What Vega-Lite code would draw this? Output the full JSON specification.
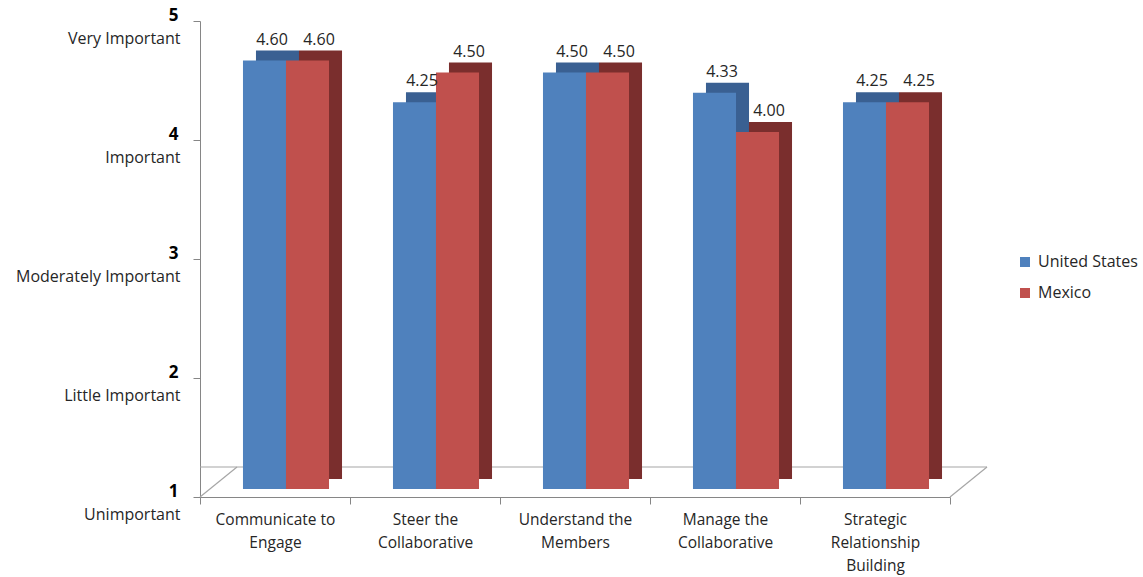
{
  "$schema": "https://vega.github.io/schema/vega-lite/v6.json",
  "width": 750,
  "height": 476,
  "autosize": {"type": "none"},
  "padding": {"left": 200, "top": 21, "right": 193, "bottom": 80},
  "config": {"font": "Open Sans", "view": {"stroke": null}},
  "data": {
    "values": [
      {"category": "Communicate to Engage", "country": "United States", "score": 4.60},
      {"category": "Communicate to Engage", "country": "Mexico", "score": 4.60},
      {"category": "Steer the Collaborative", "country": "United States", "score": 4.25},
      {"category": "Steer the Collaborative", "country": "Mexico", "score": 4.50},
      {"category": "Understand the Members", "country": "United States", "score": 4.50},
      {"category": "Understand the Members", "country": "Mexico", "score": 4.50},
      {"category": "Manage the Collaborative", "country": "United States", "score": 4.33},
      {"category": "Manage the Collaborative", "country": "Mexico", "score": 4.00},
      {"category": "Strategic Relationship Building", "country": "United States", "score": 4.25},
      {"category": "Strategic Relationship Building", "country": "Mexico", "score": 4.25}
    ]
  },
  "resolve": {"axis": {"y": "independent"}},
  "layer": [
    {
      "data": {"values": [{}]},
      "mark": {"type": "rule", "color": "#A6A6A6", "strokeWidth": 1.2, "xOffset": 37, "yOffset": -30},
      "encoding": {
        "y": {"datum": 1, "type": "quantitative", "scale": {"domain": [1, 5], "nice": false, "zero": false}, "axis": null}
      }
    },
    {
      "data": {"values": [{"category": "Communicate to Engage", "pos": 1}]},
      "mark": {"type": "rule", "color": "#A6A6A6", "strokeWidth": 1.2, "x2Offset": 37, "y2Offset": -30},
      "encoding": {
        "x": {"field": "category", "type": "nominal", "sort": null, "bandPosition": 0},
        "x2": {"field": "category", "bandPosition": 0},
        "y": {"field": "pos", "type": "quantitative", "scale": {"domain": [1, 5], "nice": false, "zero": false}, "axis": null},
        "y2": {"field": "pos"}
      }
    },
    {
      "data": {"values": [{"category": "Strategic Relationship Building", "pos": 1}]},
      "mark": {"type": "rule", "color": "#A6A6A6", "strokeWidth": 1.2, "x2Offset": 37, "y2Offset": -30},
      "encoding": {
        "x": {"field": "category", "type": "nominal", "sort": null, "bandPosition": 1},
        "x2": {"field": "category", "bandPosition": 1},
        "y": {"field": "pos", "type": "quantitative", "scale": {"domain": [1, 5], "nice": false, "zero": false}, "axis": null},
        "y2": {"field": "pos"}
      }
    },
    {
      "transform": [{"filter": "datum.country === 'United States'"}],
      "mark": {"type": "bar", "width": {"band": 0.287}, "xOffset": 2.5, "yOffset": -18, "y2Offset": -18, "color": "#3A6092"},
      "encoding": {
        "x": {"field": "category", "type": "nominal", "sort": null},
        "y": {"field": "score", "type": "quantitative", "scale": {"domain": [1, 5], "nice": false, "zero": false}, "axis": null},
        "y2": {"datum": 1}
      }
    },
    {
      "transform": [{"filter": "datum.country === 'Mexico'"}],
      "mark": {"type": "bar", "width": {"band": 0.287}, "xOffset": 45.5, "yOffset": -18, "y2Offset": -18, "color": "#7A2E2D"},
      "encoding": {
        "x": {"field": "category", "type": "nominal", "sort": null},
        "y": {"field": "score", "type": "quantitative", "scale": {"domain": [1, 5], "nice": false, "zero": false}, "axis": null},
        "y2": {"datum": 1}
      }
    },
    {
      "transform": [{"filter": "datum.country === 'United States'"}],
      "mark": {"type": "bar", "width": {"band": 0.287}, "xOffset": -10.5, "yOffset": -8, "y2Offset": -8},
      "encoding": {
        "x": {
          "field": "category", "type": "nominal", "sort": null, "title": null,
          "scale": {
            "domain": ["Communicate to Engage", "Steer the Collaborative", "Understand the Members", "Manage the Collaborative", "Strategic Relationship Building"],
            "paddingInner": 0, "paddingOuter": 0
          },
          "axis": {
            "labelAngle": 0, "labelAlign": "center", "tickBand": "extent", "tickSize": 7, "tickColor": "#868686",
            "domainColor": "#868686", "labelPadding": 8, "labelFontSize": 15.5, "labelColor": "#262626",
            "labelLineHeight": 23, "labelBaseline": "top", "labelLimit": 200,
            "labelExpr": "datum.value == 'Communicate to Engage' ? ['Communicate to', 'Engage'] : datum.value == 'Steer the Collaborative' ? ['Steer the', 'Collaborative'] : datum.value == 'Understand the Members' ? ['Understand the', 'Members'] : datum.value == 'Manage the Collaborative' ? ['Manage the', 'Collaborative'] : datum.value == 'Strategic Relationship Building' ? ['Strategic', 'Relationship', 'Building'] : ''"
          }
        },
        "y": {
          "field": "score", "type": "quantitative", "title": null,
          "scale": {"domain": [1, 5], "nice": false, "zero": false},
          "axis": {
            "orient": "left", "values": [1, 2, 3, 4, 5], "format": "d", "grid": false,
            "tickSize": 7, "tickColor": "#868686", "domainColor": "#868686",
            "labelPadding": 15, "labelFontSize": 17, "labelFontWeight": "bold", "labelColor": "#000000",
            "labelOffset": -6
          }
        },
        "y2": {"datum": 1},
        "color": {
          "field": "country", "type": "nominal",
          "scale": {"domain": ["United States", "Mexico"], "range": ["#4F81BD", "#C0504D"]},
          "legend": {
            "title": null, "orient": "none", "legendX": 817, "legendY": 233,
            "symbolType": "square", "symbolSize": 100, "symbolStrokeWidth": 0,
            "labelFontSize": 16, "labelColor": "#262626", "rowPadding": 15, "labelOffset": 5
          }
        }
      }
    },
    {
      "transform": [{"filter": "datum.country === 'Mexico'"}],
      "mark": {"type": "bar", "width": {"band": 0.287}, "xOffset": 32.5, "yOffset": -8, "y2Offset": -8},
      "encoding": {
        "x": {"field": "category", "type": "nominal", "sort": null},
        "y": {"field": "score", "type": "quantitative", "scale": {"domain": [1, 5], "nice": false, "zero": false}, "axis": null},
        "y2": {"datum": 1},
        "color": {"field": "country", "type": "nominal"}
      }
    },
    {
      "transform": [{"filter": "datum.country === 'United States'"}],
      "mark": {"type": "text", "baseline": "bottom", "xOffset": -3, "yOffset": -21, "fontSize": 16, "color": "#262626"},
      "encoding": {
        "x": {"field": "category", "type": "nominal", "sort": null},
        "y": {
          "field": "score", "type": "quantitative", "title": null,
          "scale": {"domain": [1, 5], "nice": false, "zero": false},
          "axis": {
            "orient": "left", "values": [1, 2, 3, 4, 5], "grid": false, "domain": false, "ticks": false, "tickSize": 0,
            "labelPadding": 20, "labelFontSize": 16, "labelColor": "#262626", "labelOffset": 17,
            "labelExpr": "datum.value == 5 ? 'Very Important' : datum.value == 4 ? 'Important' : datum.value == 3 ? 'Moderately Important' : datum.value == 2 ? 'Little Important' : 'Unimportant'"
          }
        },
        "text": {"field": "score", "type": "quantitative", "format": ".2f"}
      }
    },
    {
      "transform": [{"filter": "datum.country === 'Mexico'"}],
      "mark": {"type": "text", "baseline": "bottom", "xOffset": 44, "yOffset": -21, "fontSize": 16, "color": "#262626"},
      "encoding": {
        "x": {"field": "category", "type": "nominal", "sort": null},
        "y": {"field": "score", "type": "quantitative", "scale": {"domain": [1, 5], "nice": false, "zero": false}, "axis": null},
        "text": {"field": "score", "type": "quantitative", "format": ".2f"}
      }
    }
  ]
}
